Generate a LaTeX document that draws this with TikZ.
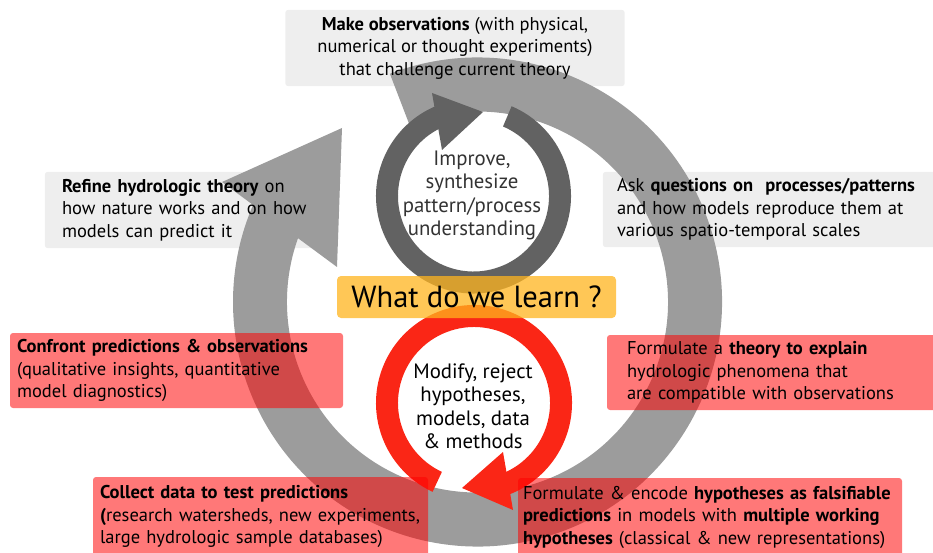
\documentclass[tikz,border=0pt]{standalone}
\usepackage{fontspec}
\setmainfont{PT Sans}
\usetikzlibrary{positioning}

\definecolor{ringgray}{RGB}{156,156,156}
\definecolor{loopgray}{RGB}{98,98,98}
\definecolor{loopred}{RGB}{250,38,22}
\definecolor{boxgray}{RGB}{238,238,238}
\definecolor{boxred}{RGB}{255,0,0}
\definecolor{boxyellow}{RGB}{255,180,30}

\pgfdeclarelayer{bg}
\pgfdeclarelayer{mid}
\pgfsetlayers{bg,mid,main}

\begin{document}
\begin{tikzpicture}[x=1pt, y=1pt,
	txt/.style={font=\fontsize{18.5}{22.5}\selectfont, inner ysep=0pt},
	greybox/.style={txt, align=left},
	redbox/.style={txt, align=left, fill=boxred, fill opacity=.53, text opacity=1, rounded corners=3pt},
	looptext/.style={font=\fontsize{20.8}{23.5}\selectfont, align=center}]

	\useasboundingbox (0,0) rectangle (933,552);

	% boxes round the cycle
	\node[greybox, align=center, minimum width=339pt, minimum height=76pt] (obs) at (455,504)
		{\textbf{Make observations} (with physical,\\ numerical or thought experiments)\\ that challenge current theory};
	\node[greybox, text width=259pt, inner xsep=17pt, minimum height=76pt] (refine) at (191.5,342)
		{\textbf{Refine hydrologic theory} on\\ how nature works and on how\\ models can predict it};
	\node[greybox, text width=329pt, inner xsep=14pt, minimum height=75pt] (ask) at (781.5,342.5)
		{Ask \textbf{questions on\ \ processes/patterns}\\ and how models reproduce them at\\ various spatio-temporal scales};
	\node[redbox, text width=319pt, inner xsep=7pt, minimum height=75pt] (confront) at (176.5,181.5)
		{\textbf{Confront predictions \& observations}\\ (qualitative insights, quantitative\\ model diagnostics)};
	\node[redbox, inner xsep=20pt, minimum height=75pt, text width=313pt] (theory) at (783.5,179.5)
		{Formulate a \textbf{theory to explain}\\ hydrologic phenomena that\\ are compatible with observations};
	\node[redbox, text width=321pt, inner xsep=7pt, minimum height=79pt] (collect) at (260.5,35.5)
		{\textbf{Collect data to test predictions}\\ \textbf{(}research watersheds, new experiments,\\ large hydrologic sample databases)};
	\node[redbox, text width=374pt, inner xsep=5pt, minimum height=78pt] (encode) at (710,35)
		{Formulate \& encode \textbf{hypotheses as falsifiable}\\ \textbf{predictions} in models with \textbf{multiple working}\\ \textbf{hypotheses} (classical \& new representations)};

	% centre
	\node[fill=boxyellow, fill opacity=.75, text opacity=1, rounded corners=4pt, minimum width=279pt,
		minimum height=42pt, font=\fontsize{30.5}{32}\selectfont] (learn) at (476.5,255) {What do we learn ?};
	\node[looptext, text=black!80] (improve) at (472,356.5) {Improve,\\ synthesize\\ pattern/process\\ understanding};
	\node[looptext] (modify) at (473,145.5) {Modify, reject\\ hypotheses,\\ models, data\\ \& methods};

	\begin{pgfonlayer}{bg}
	\foreach \b in {obs, refine, ask}
		\fill[boxgray, rounded corners=3pt] (\b.south west) rectangle (\b.north east);
	\end{pgfonlayer}

	% circular arrows
	\begin{pgfonlayer}{mid}
	\fill[ringgray, shift={(477.5,250)}] (111:244.5) arc[start angle=111, end angle=-205, radius=244.5]
		-- (-205:190.5) arc[start angle=-205, end angle=111, radius=190.5] -- cycle;
	\fill[ringgray] (222,370) -- (342,424) -- (337,285) -- cycle;

	\fill[loopgray, shift={(473.5,356)}] (67:97.5) arc[start angle=67, end angle=-248, radius=97.5]
		-- (-248:75.5) arc[start angle=-248, end angle=67, radius=75.5] -- cycle;
	\fill[loopgray] (432,459) -- (483,440) -- (442,402) -- cycle;

	\fill[loopred, shift={(474,149)}] (-115:98) arc[start angle=-115, end angle=-430, radius=98]
		-- (-430:76) arc[start angle=-430, end angle=-115, radius=76] -- cycle;
	\fill[loopred] (503,100) -- (462,64) -- (513,42) -- cycle;
	\end{pgfonlayer}

\end{tikzpicture}
\end{document}
